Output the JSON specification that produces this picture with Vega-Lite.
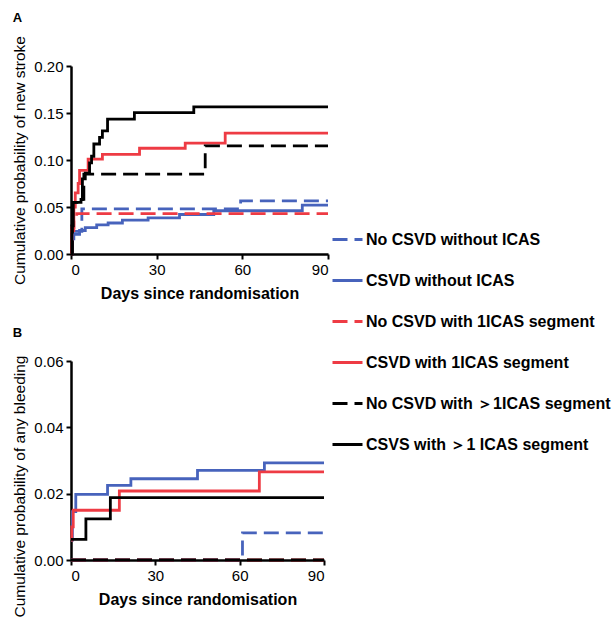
{
  "$schema": "https://vega.github.io/schema/vega-lite/v6.json",
  "padding": {"left": 12, "top": 11, "right": 0, "bottom": 0},
  "background": "white",
  "datasets": {
    "a": [
      {"series": "No CSVD without ICAS", "day": 0, "p": 0},
      {"series": "No CSVD without ICAS", "day": 0.5, "p": 0.024},
      {"series": "No CSVD without ICAS", "day": 3.8, "p": 0.048},
      {"series": "No CSVD without ICAS", "day": 59.4, "p": 0.0565},
      {"series": "No CSVD without ICAS", "day": 90, "p": 0.0565},
      {"series": "CSVD without ICAS", "day": 0, "p": 0.004},
      {"series": "CSVD without ICAS", "day": 0.5, "p": 0.016},
      {"series": "CSVD without ICAS", "day": 1, "p": 0.021},
      {"series": "CSVD without ICAS", "day": 3, "p": 0.025},
      {"series": "CSVD without ICAS", "day": 5, "p": 0.028},
      {"series": "CSVD without ICAS", "day": 9, "p": 0.031},
      {"series": "CSVD without ICAS", "day": 13, "p": 0.033},
      {"series": "CSVD without ICAS", "day": 18, "p": 0.036},
      {"series": "CSVD without ICAS", "day": 27, "p": 0.0385},
      {"series": "CSVD without ICAS", "day": 38, "p": 0.042},
      {"series": "CSVD without ICAS", "day": 50, "p": 0.046},
      {"series": "CSVD without ICAS", "day": 81, "p": 0.052},
      {"series": "CSVD without ICAS", "day": 90, "p": 0.052},
      {"series": "No CSVD with 1ICAS segment", "day": 0, "p": 0},
      {"series": "No CSVD with 1ICAS segment", "day": 0.3, "p": 0.025},
      {"series": "No CSVD with 1ICAS segment", "day": 1, "p": 0.035},
      {"series": "No CSVD with 1ICAS segment", "day": 2, "p": 0.043},
      {"series": "No CSVD with 1ICAS segment", "day": 90, "p": 0.043},
      {"series": "CSVD with 1ICAS segment", "day": 0, "p": 0},
      {"series": "CSVD with 1ICAS segment", "day": 0.3, "p": 0.028},
      {"series": "CSVD with 1ICAS segment", "day": 1, "p": 0.05},
      {"series": "CSVD with 1ICAS segment", "day": 1.5, "p": 0.065},
      {"series": "CSVD with 1ICAS segment", "day": 2.5, "p": 0.075},
      {"series": "CSVD with 1ICAS segment", "day": 3, "p": 0.089},
      {"series": "CSVD with 1ICAS segment", "day": 6, "p": 0.101},
      {"series": "CSVD with 1ICAS segment", "day": 11, "p": 0.106},
      {"series": "CSVD with 1ICAS segment", "day": 24, "p": 0.1125},
      {"series": "CSVD with 1ICAS segment", "day": 40, "p": 0.118},
      {"series": "CSVD with 1ICAS segment", "day": 54, "p": 0.1285},
      {"series": "CSVD with 1ICAS segment", "day": 90, "p": 0.1285},
      {"series": "No CSVD with ＞1ICAS segment", "day": 0, "p": 0},
      {"series": "No CSVD with ＞1ICAS segment", "day": 0.5, "p": 0.055},
      {"series": "No CSVD with ＞1ICAS segment", "day": 4.5, "p": 0.085},
      {"series": "No CSVD with ＞1ICAS segment", "day": 47, "p": 0.115},
      {"series": "No CSVD with ＞1ICAS segment", "day": 90, "p": 0.115},
      {"series": "CSVS with ＞1 ICAS segment", "day": 0, "p": 0},
      {"series": "CSVS with ＞1 ICAS segment", "day": 0.3, "p": 0.03},
      {"series": "CSVS with ＞1 ICAS segment", "day": 0.8, "p": 0.055},
      {"series": "CSVS with ＞1 ICAS segment", "day": 3.5, "p": 0.058},
      {"series": "CSVS with ＞1 ICAS segment", "day": 4, "p": 0.08},
      {"series": "CSVS with ＞1 ICAS segment", "day": 5, "p": 0.086},
      {"series": "CSVS with ＞1 ICAS segment", "day": 6.5, "p": 0.097},
      {"series": "CSVS with ＞1 ICAS segment", "day": 7.2, "p": 0.104},
      {"series": "CSVS with ＞1 ICAS segment", "day": 8, "p": 0.117},
      {"series": "CSVS with ＞1 ICAS segment", "day": 10, "p": 0.124},
      {"series": "CSVS with ＞1 ICAS segment", "day": 11, "p": 0.131},
      {"series": "CSVS with ＞1 ICAS segment", "day": 12.8, "p": 0.1435},
      {"series": "CSVS with ＞1 ICAS segment", "day": 22.2, "p": 0.1505},
      {"series": "CSVS with ＞1 ICAS segment", "day": 43, "p": 0.1565},
      {"series": "CSVS with ＞1 ICAS segment", "day": 90, "p": 0.1565}
    ],
    "b": [
      {"series": "No CSVD without ICAS", "day": 0, "p": 0},
      {"series": "No CSVD without ICAS", "day": 61, "p": 0.0082},
      {"series": "No CSVD without ICAS", "day": 90, "p": 0.0082},
      {"series": "CSVD without ICAS", "day": 0, "p": 0.006},
      {"series": "CSVD without ICAS", "day": 0.5, "p": 0.0146},
      {"series": "CSVD without ICAS", "day": 1.7, "p": 0.0198},
      {"series": "CSVD without ICAS", "day": 13, "p": 0.0225},
      {"series": "CSVD without ICAS", "day": 21.3, "p": 0.0245},
      {"series": "CSVD without ICAS", "day": 45, "p": 0.027},
      {"series": "CSVD without ICAS", "day": 68.8, "p": 0.0293},
      {"series": "CSVD without ICAS", "day": 90, "p": 0.0293},
      {"series": "No CSVD with 1ICAS segment", "day": 0, "p": 0},
      {"series": "No CSVD with 1ICAS segment", "day": 90, "p": 0},
      {"series": "CSVD with 1ICAS segment", "day": 0, "p": 0.006},
      {"series": "CSVD with 1ICAS segment", "day": 0.3, "p": 0.01},
      {"series": "CSVD with 1ICAS segment", "day": 0.8, "p": 0.015},
      {"series": "CSVD with 1ICAS segment", "day": 17.2, "p": 0.0208},
      {"series": "CSVD with 1ICAS segment", "day": 67, "p": 0.0266},
      {"series": "CSVD with 1ICAS segment", "day": 90, "p": 0.0266},
      {"series": "No CSVD with ＞1ICAS segment", "day": 0, "p": 0},
      {"series": "No CSVD with ＞1ICAS segment", "day": 90, "p": 0},
      {"series": "CSVS with ＞1 ICAS segment", "day": 0, "p": 0.0062},
      {"series": "CSVS with ＞1 ICAS segment", "day": 5.3, "p": 0.0124},
      {"series": "CSVS with ＞1 ICAS segment", "day": 14, "p": 0.0188},
      {"series": "CSVS with ＞1 ICAS segment", "day": 90, "p": 0.0188}
    ]
  },
  "vconcat": [
    {
      "data": {"name": "a"},
      "width": 257,
      "height": 188,
      "title": {"text": "A", "anchor": "start", "fontSize": 13, "fontWeight": "bold", "font": "Liberation Sans", "offset": 11},
      "mark": {"type": "line", "interpolate": "step-after", "strokeWidth": 2.8},
      "encoding": {
        "x": {"field": "day", "type": "quantitative", "scale": {"domain": [0, 90], "nice": false},
              "axis": {"values": [0, 30, 60, 90], "title": "Days since randomisation", "titleFontWeight": "bold", "titleFontSize": 16, "titlePadding": 8}},
        "y": {"field": "p", "type": "quantitative", "scale": {"domain": [0, 0.2], "nice": false},
              "axis": {"values": [0, 0.05, 0.1, 0.15, 0.2], "format": ".2f", "title": "Cumulative probability of new stroke", "titleFontWeight": "normal", "titleFontSize": 15.5, "titlePadding": 6}},
        "color": {"field": "series", "type": "nominal",
                  "scale": {"domain": ["No CSVD without ICAS", "CSVD without ICAS", "No CSVD with 1ICAS segment", "CSVD with 1ICAS segment", "No CSVD with ＞1ICAS segment", "CSVS with ＞1 ICAS segment"],
                            "range": ["#4763bc", "#4763bc", "#ee3b44", "#ee3b44", "#000000", "#000000"]},
                  "legend": {"orient": "none", "legendX": 260, "legendY": 157, "title": null,
                             "encode": {"symbols": {"update": {"strokeDash": {"signal": "test(/^No/, datum.label) ? [11, 8] : [1, 0]"}}}}}},
        "strokeDash": {"field": "series", "type": "nominal",
                       "scale": {"domain": ["No CSVD without ICAS", "CSVD without ICAS", "No CSVD with 1ICAS segment", "CSVD with 1ICAS segment", "No CSVD with ＞1ICAS segment", "CSVS with ＞1 ICAS segment"],
                                 "range": [[15, 7], [1, 0], [15, 7], [1, 0], [15, 7], [1, 0]]},
                       "legend": {"orient": "none", "legendX": 260, "legendY": 157, "title": null}},
        "order": {"field": "day", "type": "quantitative"}
      }
    },
    {
      "data": {"name": "b"},
      "width": 253,
      "height": 199,
      "title": {"text": "B", "anchor": "start", "fontSize": 13, "fontWeight": "bold", "font": "Liberation Sans", "offset": 14},
      "mark": {"type": "line", "interpolate": "step-after", "strokeWidth": 2.8},
      "encoding": {
        "x": {"field": "day", "type": "quantitative", "scale": {"domain": [0, 90], "nice": false},
              "axis": {"values": [0, 30, 60, 90], "title": "Days since randomisation", "titleFontWeight": "bold", "titleFontSize": 16, "titlePadding": 8}},
        "y": {"field": "p", "type": "quantitative", "scale": {"domain": [0, 0.06], "nice": false},
              "axis": {"values": [0, 0.02, 0.04, 0.06], "format": ".2f", "title": "Cumulative probability of any bleeding", "titleFontWeight": "normal", "titleFontSize": 15.5, "titlePadding": 6, "titleY": 125}},
        "color": {"field": "series", "type": "nominal",
                  "scale": {"domain": ["No CSVD without ICAS", "CSVD without ICAS", "No CSVD with 1ICAS segment", "CSVD with 1ICAS segment", "No CSVD with ＞1ICAS segment", "CSVS with ＞1 ICAS segment"],
                            "range": ["#4763bc", "#4763bc", "#ee3b44", "#ee3b44", "#000000", "#000000"]},
                  "legend": {"orient": "none", "legendX": 260, "legendY": 157, "title": null}},
        "strokeDash": {"field": "series", "type": "nominal",
                       "scale": {"domain": ["No CSVD without ICAS", "CSVD without ICAS", "No CSVD with 1ICAS segment", "CSVD with 1ICAS segment", "No CSVD with ＞1ICAS segment", "CSVS with ＞1 ICAS segment"],
                                 "range": [[15, 7], [1, 0], [15, 7], [1, 0], [15, 7], [1, 0]]},
                       "legend": {"orient": "none", "legendX": 260, "legendY": 157, "title": null}},
        "order": {"field": "day", "type": "quantitative"}
      }
    }
  ],
  "spacing": 26,
  "config": {
    "view": {"stroke": null},
    "axis": {"domainColor": "black", "domainWidth": 2.5, "tickColor": "black", "tickWidth": 2, "tickSize": 5, "grid": false,
             "labelFont": "Liberation Sans", "labelFontSize": 15, "labelColor": "black", "labelPadding": 3,
             "titleFont": "Liberation Sans", "titleColor": "black"},
    "legend": {"symbolType": "stroke", "symbolSize": 900, "symbolStrokeWidth": 3, "labelFont": "Liberation Sans", "labelFontSize": 16,
               "labelFontWeight": "bold", "labelColor": "black", "labelOffset": 2, "rowPadding": 16, "padding": 0, "labelLimit": 400}
  }
}
